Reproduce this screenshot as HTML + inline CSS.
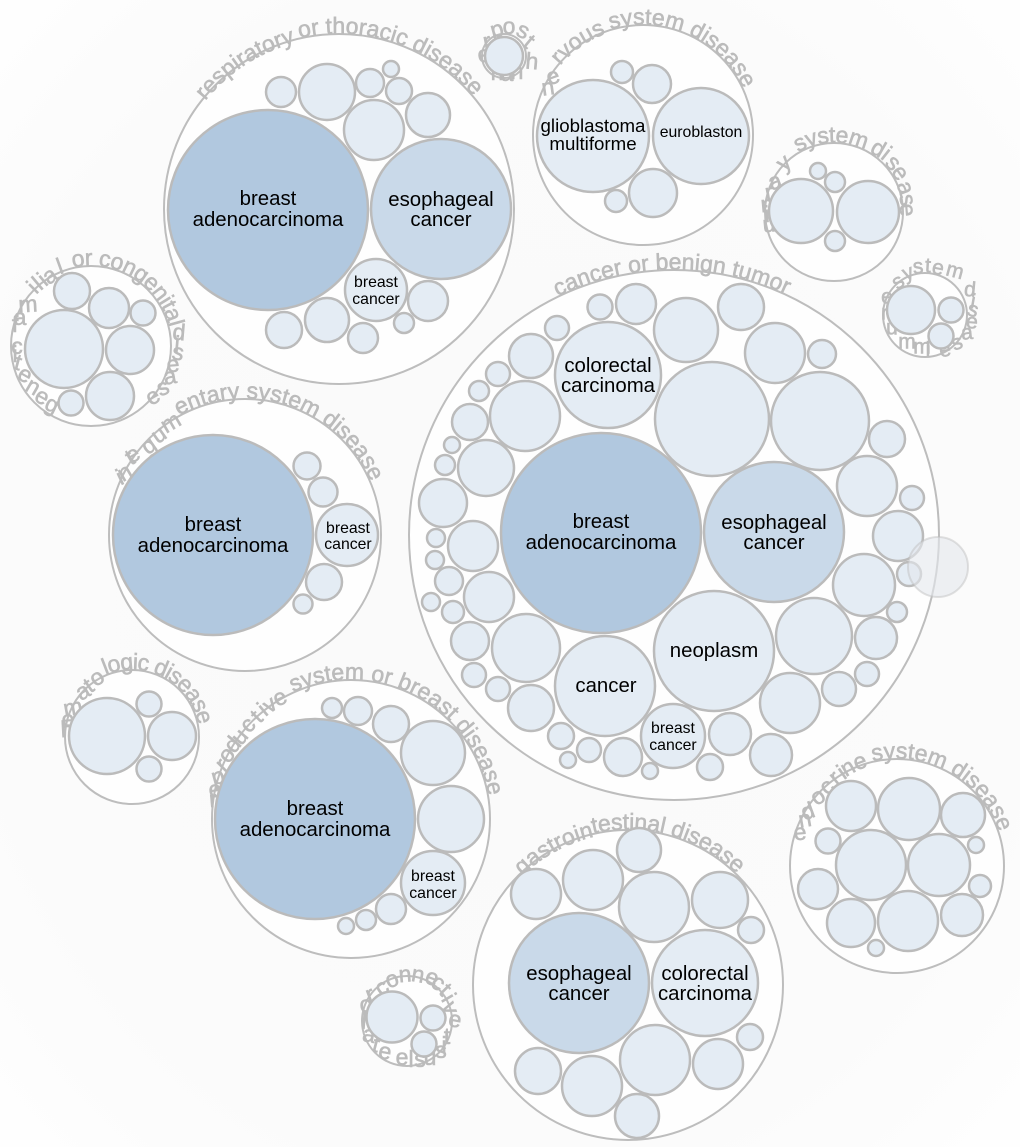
<!DOCTYPE html>
<html><head><meta charset="utf-8"><style>
html,body{margin:0;padding:0;background:#fcfcfc}
svg{display:block}
.o{fill:#fefefe;stroke:#bdbdbd;stroke-width:2}
.c circle{fill:#e4ecf4;stroke:#bbb;stroke-width:2.5}
circle.d{fill:#b1c8df !important}
circle.m{fill:#c9d9e9 !important}
.a text{font:23px "Liberation Sans",sans-serif;fill:#bbb;stroke:#bbb;stroke-width:.6}
.a text.k{text-anchor:middle}
.a .t text{font-size:21px}
.l text{font-family:"Liberation Sans",sans-serif;fill:#000;text-anchor:middle;font-size:20.4px}
.l text.s{font-size:15.8px}
.l text.g{font-size:18.7px}
path{fill:none}
</style></head><body>
<svg xmlns="http://www.w3.org/2000/svg" width="1020" height="1147" viewBox="0 0 1020 1147">
<defs>
<radialGradient id="bg" cx="50%" cy="50%" r="75%"><stop offset="0" stop-color="#fafafa"/><stop offset="0.7" stop-color="#fbfbfb"/><stop offset="1" stop-color="#fff"/></radialGradient>
<path id="pA" d="M0,-175.5A175.5,175.5 0 1 1 0,175.5A175.5,175.5 0 1 1 0,-175.5"/>
<path id="pA2" d="M0,-172A172,172 0 1 1 0,172A172,172 0 1 1 0,-172"/>
<path id="pB" d="M0,-110.5A110.5,110.5 0 1 1 0,110.5A110.5,110.5 0 1 1 0,-110.5"/>
<path id="pB2" d="M0,-108A108,108 0 1 1 0,108A108,108 0 1 1 0,-108"/>
<path id="pD" d="M0,-69.5A69.5,69.5 0 1 1 0,69.5A69.5,69.5 0 1 1 0,-69.5"/>
<path id="pF" d="M0,-80.5A80.5,80.5 0 1 1 0,80.5A80.5,80.5 0 1 1 0,-80.5"/>
<path id="pG" d="M0,-136.5A136.5,136.5 0 1 1 0,136.5A136.5,136.5 0 1 1 0,-136.5"/>
<path id="pH" d="M0,-67.5A67.5,67.5 0 1 1 0,67.5A67.5,67.5 0 1 1 0,-67.5"/>
<path id="pI" d="M0,-139.5A139.5,139.5 0 1 1 0,139.5A139.5,139.5 0 1 1 0,-139.5"/>
<path id="pJ" d="M0,-155.5A155.5,155.5 0 1 1 0,155.5A155.5,155.5 0 1 1 0,-155.5"/>
<path id="pJ2" d="M0,-152A152,152 0 1 1 0,152A152,152 0 1 1 0,-152"/>
<path id="pK" d="M0,-107.5A107.5,107.5 0 1 1 0,107.5A107.5,107.5 0 1 1 0,-107.5"/>
<path id="pM" d="M0,-265.5A265.5,265.5 0 1 1 0,265.5A265.5,265.5 0 1 1 0,-265.5"/>
</defs>
<rect width="1020" height="1147" fill="url(#bg)"/>

<!-- outer circles -->
<circle class="o" cx="339" cy="209" r="175"/>
<circle class="o" cx="643" cy="135" r="110"/>
<circle class="o" cx="504" cy="56" r="22"/>
<circle class="o" cx="834" cy="212" r="69"/>
<circle class="o" cx="925" cy="315" r="42"/>
<circle class="o" cx="91" cy="346" r="80"/>
<circle class="o" cx="245" cy="535" r="136"/>
<circle class="o" cx="132" cy="737" r="67"/>
<circle class="o" cx="351" cy="819" r="139"/>
<circle class="o" cx="628" cy="985" r="155"/>
<circle class="o" cx="897" cy="866" r="107"/>
<circle class="o" cx="407" cy="1021" r="45"/>
<circle class="o" cx="674" cy="535" r="265"/>

<!-- arc labels -->
<g class="a">
<!-- respiratory -->
<g transform="translate(339,209) rotate(-13)"><text><textPath href="#pA">or thoracic disease</textPath></text></g>
<g transform="translate(339,209) rotate(-51)"><text><textPath href="#pA2">respiratory</textPath></text></g>
<!-- nervous -->
<g transform="translate(643,135) rotate(-17)"><text><textPath href="#pB">system disease</textPath></text></g>
<g transform="translate(643,135) rotate(-50)"><text><textPath href="#pB2">rvous</textPath></text></g>
<text class="k" dy=".3em" transform="translate(548,88) rotate(-8)">n</text>
<text class="k" dy=".3em" transform="translate(553,77) rotate(-20)">e</text>
<!-- small top circle -->
<text class="k" dy=".3em" transform="translate(497,30) rotate(-15)">p</text>
<text class="k" dy=".3em" transform="translate(509,27)">o</text>
<text class="k" dy=".3em" transform="translate(523,31) rotate(25)">s</text>
<text class="k" dy=".3em" transform="translate(529,42) rotate(40)">t</text>
<text class="k" dy=".3em" transform="translate(532,62) rotate(5)">h</text>
<text class="k" dy=".3em" transform="translate(487,42) rotate(-10)">r</text>
<text class="k" dy=".3em" transform="translate(484,55) rotate(-10)">e</text>
<text class="k" dy=".3em" transform="translate(497,73)">n</text>
<text class="k" dy=".3em" transform="translate(507,74)">a</text>
<text class="k" dy=".3em" transform="translate(517,72)">n</text>
<!-- urinary -->
<g transform="translate(834,212) rotate(-31)"><text style="letter-spacing:-.6px"><textPath href="#pD">system</textPath></text></g>
<text class="k" dy=".3em" transform="translate(878,149) rotate(30)">d</text>
<text class="k" dy=".3em" transform="translate(886,154) rotate(38)">i</text>
<text class="k" dy=".3em" transform="translate(893,163) rotate(45)">s</text>
<text class="k" dy=".3em" transform="translate(900,173) rotate(55)">e</text>
<text class="k" dy=".3em" transform="translate(905,188) rotate(70)">a</text>
<text class="k" dy=".3em" transform="translate(907,200) rotate(80)">s</text>
<text class="k" dy=".3em" transform="translate(907,210) rotate(85)">e</text>
<text class="k" dy=".3em" transform="translate(784,163) rotate(-40)">y</text>
<text class="k" dy=".3em" transform="translate(775,182) rotate(-20)">a</text>
<text class="k" dy=".3em" transform="translate(769,193) rotate(-10)">r</text>
<text class="k" dy=".3em" transform="translate(767,205) rotate(-5)">n</text>
<text class="k" dy=".3em" transform="translate(767,215) rotate(-5)">i</text>
<text class="k" dy=".3em" transform="translate(769,225) rotate(-5)">u</text>
<!-- immune -->
<g class="t">
<text class="k" dy=".3em" transform="translate(898,282) rotate(-35)">s</text>
<text class="k" dy=".3em" transform="translate(908,273) rotate(-20)">y</text>
<text class="k" dy=".3em" transform="translate(918,267) rotate(-5)">s</text>
<text class="k" dy=".3em" transform="translate(928,266) rotate(3)">t</text>
<text class="k" dy=".3em" transform="translate(938,268) rotate(12)">e</text>
<text class="k" dy=".3em" transform="translate(955,271) rotate(15)">m</text>
<text class="k" dy=".3em" transform="translate(970,290) rotate(5)">d</text>
<text class="k" dy=".3em" transform="translate(973,302) rotate(10)">i</text>
<text class="k" dy=".3em" transform="translate(973,310) rotate(15)">s</text>
<text class="k" dy=".3em" transform="translate(972,322) rotate(5)">e</text>
<text class="k" dy=".3em" transform="translate(967,333) rotate(-5)">a</text>
<text class="k" dy=".3em" transform="translate(957,343) rotate(-20)">s</text>
<text class="k" dy=".3em" transform="translate(945,350) rotate(-10)">e</text>
<text class="k" dy=".3em" transform="translate(928,350)">i</text>
<text class="k" dy=".3em" transform="translate(922,347)">m</text>
<text class="k" dy=".3em" transform="translate(907,342)">m</text>
<text class="k" dy=".3em" transform="translate(892,328)">u</text>
<text class="k" dy=".3em" transform="translate(887,313)">n</text>
<text class="k" dy=".3em" transform="translate(887,297)">e</text>
</g>
<!-- genetic, familial or congenital -->
<g transform="translate(91,346) rotate(-13)"><text style="letter-spacing:-.5px"><textPath href="#pF">or congenital</textPath></text></g>
<text class="k" dy=".3em" transform="translate(179,333) rotate(5)">d</text>
<text class="k" dy=".3em" transform="translate(177,345) rotate(5)">i</text>
<text class="k" dy=".3em" transform="translate(178,353) rotate(10)">s</text>
<text class="k" dy=".3em" transform="translate(173,365) rotate(-5)">e</text>
<text class="k" dy=".3em" transform="translate(170,377) rotate(-10)">a</text>
<text class="k" dy=".3em" transform="translate(163,388) rotate(-20)">s</text>
<text class="k" dy=".3em" transform="translate(153,397) rotate(-30)">e</text>
<text class="k" dy=".3em" transform="translate(33,288) rotate(-45)">i</text>
<text class="k" dy=".3em" transform="translate(38,284) rotate(-40)">l</text>
<text class="k" dy=".3em" transform="translate(43,280) rotate(-40)">i</text>
<text class="k" dy=".3em" transform="translate(50,276) rotate(-35)">a</text>
<text class="k" dy=".3em" transform="translate(60,267) rotate(-20)">l</text>
<text class="k" dy=".3em" transform="translate(28,305) rotate(-3)">m</text>
<text class="k" dy=".3em" transform="translate(20,318)">a</text>
<text class="k" dy=".3em" transform="translate(15,325)">f</text>
<text class="k" dy=".3em" transform="translate(17,347)">c</text>
<text class="k" dy=".3em" transform="translate(15,355)">i</text>
<text class="k" dy=".3em" transform="translate(18,363) rotate(15)">t</text>
<text class="k" dy=".3em" transform="translate(25,375) rotate(30)">e</text>
<text class="k" dy=".3em" transform="translate(33,387) rotate(30)">n</text>
<text class="k" dy=".3em" transform="translate(42,397) rotate(30)">e</text>
<text class="k" dy=".3em" transform="translate(52,405) rotate(25)">g</text>
<!-- integumentary -->
<g transform="translate(245,535) rotate(-29)"><text><textPath href="#pG">entary system disease</textPath></text></g>
<text class="k" dy=".3em" transform="translate(120,478) rotate(-25)">i</text>
<text class="k" dy=".3em" transform="translate(125,473) rotate(-30)">n</text>
<text class="k" dy=".3em" transform="translate(130,458) rotate(-30)">t</text>
<text class="k" dy=".3em" transform="translate(133,455) rotate(-30)">e</text>
<text class="k" dy=".3em" transform="translate(149,446) rotate(-35)">g</text>
<text class="k" dy=".3em" transform="translate(159,435) rotate(-35)">u</text>
<text class="k" dy=".3em" transform="translate(171,423) rotate(-30)">m</text>
<!-- hematologic -->
<g transform="translate(132,737) rotate(-23)"><text style="letter-spacing:-1px"><textPath href="#pH">logic disease</textPath></text></g>
<text class="k" dy=".3em" transform="translate(97,678) rotate(-35)">o</text>
<text class="k" dy=".3em" transform="translate(89,686) rotate(-35)">t</text>
<text class="k" dy=".3em" transform="translate(83,692) rotate(-30)">a</text>
<text class="k" dy=".3em" transform="translate(73,708) rotate(-10)">m</text>
<text class="k" dy=".3em" transform="translate(68,720) rotate(-5)">e</text>
<text class="k" dy=".3em" transform="translate(67,730) rotate(-3)">h</text>
<!-- reproductive -->
<g transform="translate(351,819) rotate(-24.6)"><text><textPath href="#pI">system or breast disease</textPath></text></g>
<text class="k" dy=".3em" transform="translate(280,698) rotate(-25)">e</text>
<text class="k" dy=".3em" transform="translate(270,705) rotate(-35)">v</text>
<text class="k" dy=".3em" transform="translate(263,710) rotate(-40)">i</text>
<text class="k" dy=".3em" transform="translate(257,717) rotate(-45)">t</text>
<text class="k" dy=".3em" transform="translate(248,725) rotate(-45)">c</text>
<text class="k" dy=".3em" transform="translate(240,737) rotate(-50)">u</text>
<text class="k" dy=".3em" transform="translate(233,745) rotate(-50)">d</text>
<text class="k" dy=".3em" transform="translate(227,755) rotate(-50)">o</text>
<text class="k" dy=".3em" transform="translate(222,765) rotate(-45)">r</text>
<text class="k" dy=".3em" transform="translate(218,777) rotate(-15)">p</text>
<text class="k" dy=".3em" transform="translate(215,790) rotate(-8)">e</text>
<text class="k" dy=".3em" transform="translate(213,800) rotate(-5)">r</text>
<!-- gastrointestinal -->
<g transform="translate(628,985) rotate(-13)"><text style="letter-spacing:-.2px"><textPath href="#pJ">testinal disease</textPath></text></g>
<g transform="translate(628,985) rotate(-44)"><text style="letter-spacing:.1px"><textPath href="#pJ2">gastroin</textPath></text></g>
<!-- endocrine -->
<g transform="translate(897,866) rotate(-13)"><text><textPath href="#pK">system disease</textPath></text></g>
<text class="k" dy=".3em" transform="translate(800,833) rotate(-5)">e</text>
<text class="k" dy=".3em" transform="translate(805,820) rotate(-10)">n</text>
<text class="k" dy=".3em" transform="translate(808,812) rotate(-20)">d</text>
<text class="k" dy=".3em" transform="translate(818,797) rotate(-35)">o</text>
<text class="k" dy=".3em" transform="translate(827,787) rotate(-40)">c</text>
<text class="k" dy=".3em" transform="translate(835,778) rotate(-40)">r</text>
<text class="k" dy=".3em" transform="translate(842,773) rotate(-35)">i</text>
<text class="k" dy=".3em" transform="translate(848,768) rotate(-30)">n</text>
<text class="k" dy=".3em" transform="translate(860,762) rotate(-20)">e</text>
<!-- musculoskeletal or connective tissue -->
<text class="k" dy=".3em" transform="translate(370,995) rotate(-20)">r</text>
<text class="k" dy=".3em" transform="translate(366,1005) rotate(-5)">o</text>
<text class="k" dy=".3em" transform="translate(382,988) rotate(-35)">c</text>
<text class="k" dy=".3em" transform="translate(392,980) rotate(-20)">o</text>
<text class="k" dy=".3em" transform="translate(405,975) rotate(-5)">n</text>
<text class="k" dy=".3em" transform="translate(418,975) rotate(10)">n</text>
<text class="k" dy=".3em" transform="translate(432,978) rotate(20)">e</text>
<text class="k" dy=".3em" transform="translate(438,983) rotate(35)">c</text>
<text class="k" dy=".3em" transform="translate(445,990) rotate(45)">t</text>
<text class="k" dy=".3em" transform="translate(448,998) rotate(60)">i</text>
<text class="k" dy=".3em" transform="translate(450,1008) rotate(70)">v</text>
<text class="k" dy=".3em" transform="translate(455,1020) rotate(10)">e</text>
<text class="k" dy=".3em" transform="translate(447,1037)">t</text>
<text class="k" dy=".3em" transform="translate(444,1046)">i</text>
<text class="k" dy=".3em" transform="translate(441,1051)">s</text>
<text class="k" dy=".3em" transform="translate(430,1058)">u</text>
<text class="k" dy=".3em" transform="translate(420,1060)">s</text>
<text class="k" dy=".3em" transform="translate(411,1060)">l</text>
<text class="k" dy=".3em" transform="translate(402,1058)">e</text>
<text class="k" dy=".3em" transform="translate(385,1052) rotate(10)">e</text>
<text class="k" dy=".3em" transform="translate(376,1045) rotate(15)">t</text>
<text class="k" dy=".3em" transform="translate(369,1035) rotate(10)">a</text>
<text class="k" dy=".3em" transform="translate(364,1022) rotate(5)">l</text>
<!-- cancer -->
<g transform="translate(674,535) rotate(-26)"><text><textPath href="#pM">cancer or benign tumor</textPath></text></g>
</g>

<g class="c">
<!-- A respiratory -->
<circle class="d" cx="268" cy="210" r="100"/><circle class="m" cx="441" cy="209" r="70"/><circle cx="376" cy="290" r="31"/>
<circle cx="281" cy="92" r="15"/><circle cx="327" cy="92" r="28"/><circle cx="370" cy="83" r="14"/><circle cx="391" cy="69" r="8"/><circle cx="399" cy="91" r="13"/><circle cx="374" cy="130" r="30"/><circle cx="428" cy="115" r="22"/><circle cx="428" cy="301" r="20"/><circle cx="284" cy="330" r="18"/><circle cx="327" cy="320" r="22"/><circle cx="363" cy="338" r="15"/><circle cx="404" cy="323" r="10"/>
<!-- B nervous -->
<circle cx="593" cy="136" r="56"/><circle cx="701" cy="136" r="48"/><circle cx="622" cy="72" r="11"/><circle cx="652" cy="84" r="19"/><circle cx="653" cy="193" r="24"/><circle cx="616" cy="201" r="11"/>
<!-- C -->
<circle cx="504" cy="56" r="19"/>
<!-- D -->
<circle cx="801" cy="211" r="32"/><circle cx="868" cy="212" r="31"/><circle cx="818" cy="171" r="8"/><circle cx="835" cy="182" r="10"/><circle cx="835" cy="241" r="10"/>
<!-- E -->
<circle cx="911" cy="310" r="24"/><circle cx="951" cy="310" r="12.5"/><circle cx="941" cy="336" r="12.5"/>
<!-- F -->
<circle cx="64" cy="349" r="39"/><circle cx="72" cy="291" r="18"/><circle cx="109" cy="308" r="20"/><circle cx="143" cy="313" r="12.5"/><circle cx="130" cy="350" r="24"/><circle cx="110" cy="396" r="24"/><circle cx="71" cy="403" r="12.5"/>
<!-- G -->
<circle class="d" cx="213" cy="535" r="100"/><circle cx="347" cy="535" r="31"/><circle cx="307" cy="466" r="13.5"/><circle cx="323" cy="492" r="14.5"/><circle cx="324" cy="582" r="18"/><circle cx="303" cy="604" r="9.5"/>
<!-- H -->
<circle cx="107" cy="736" r="38"/><circle cx="149" cy="704" r="12.5"/><circle cx="172" cy="736" r="24"/><circle cx="149" cy="769" r="12.5"/>
<!-- I -->
<circle class="d" cx="315" cy="819" r="100"/><circle cx="433" cy="883" r="32"/><circle cx="433" cy="753" r="32"/><circle cx="451" cy="819" r="33"/><circle cx="391" cy="724" r="18"/><circle cx="358" cy="711" r="14"/><circle cx="332" cy="708" r="10"/><circle cx="391" cy="909" r="15"/><circle cx="366" cy="920" r="10"/><circle cx="346" cy="926" r="8"/>
<!-- J -->
<circle class="m" cx="579" cy="983" r="70"/><circle cx="705" cy="983" r="53"/><circle cx="593" cy="880" r="30"/><circle cx="536" cy="894" r="25"/><circle cx="639" cy="850" r="22"/><circle cx="654" cy="907" r="35"/><circle cx="720" cy="900" r="28"/><circle cx="751" cy="930" r="13"/><circle cx="750" cy="1037" r="13"/><circle cx="718" cy="1064" r="25"/><circle cx="655" cy="1060" r="35"/><circle cx="592" cy="1086" r="30"/><circle cx="538" cy="1071" r="23"/><circle cx="637" cy="1116" r="22"/>
<!-- K -->
<circle cx="851" cy="806" r="25"/><circle cx="909" cy="809" r="31"/><circle cx="963" cy="815" r="22"/><circle cx="828" cy="841" r="12.5"/><circle cx="976" cy="845" r="8"/><circle cx="871" cy="865" r="35"/><circle cx="939" cy="865" r="31"/><circle cx="818" cy="889" r="20"/><circle cx="980" cy="886" r="11"/><circle cx="851" cy="923" r="24"/><circle cx="908" cy="921" r="30"/><circle cx="962" cy="915" r="21"/><circle cx="876" cy="948" r="8"/>
<!-- L -->
<circle cx="392" cy="1017" r="25.5"/><circle cx="433" cy="1018" r="12.5"/><circle cx="424" cy="1044" r="12.5"/>
<!-- M -->
<circle class="d" cx="601" cy="533" r="100"/><circle class="m" cx="774" cy="532" r="70"/><circle cx="608" cy="375" r="53"/><circle cx="605" cy="686" r="50"/><circle cx="714" cy="651" r="60"/><circle cx="673" cy="736" r="32"/>
<circle cx="712" cy="419" r="57"/><circle cx="820" cy="421" r="49"/><circle cx="600" cy="307" r="12.5"/><circle cx="636" cy="304" r="20"/><circle cx="686" cy="330" r="32"/><circle cx="741" cy="307" r="23"/><circle cx="775" cy="353" r="30"/><circle cx="822" cy="354" r="14"/><circle cx="557" cy="328" r="12"/><circle cx="531" cy="356" r="22"/><circle cx="498" cy="374" r="12"/><circle cx="479" cy="391" r="10"/><circle cx="525" cy="416" r="35"/><circle cx="470" cy="422" r="18"/><circle cx="452" cy="445" r="8"/><circle cx="445" cy="465" r="10"/><circle cx="486" cy="468" r="28"/><circle cx="443" cy="503" r="24"/><circle cx="436" cy="538" r="9"/><circle cx="473" cy="546" r="25"/><circle cx="435" cy="560" r="9"/><circle cx="449" cy="581" r="14"/><circle cx="431" cy="602" r="9"/><circle cx="489" cy="597" r="25"/><circle cx="453" cy="612" r="11"/><circle cx="470" cy="641" r="19"/><circle cx="526" cy="648" r="34"/><circle cx="474" cy="675" r="12"/><circle cx="498" cy="689" r="12"/><circle cx="531" cy="708" r="23"/><circle cx="561" cy="736" r="13"/><circle cx="589" cy="750" r="12"/><circle cx="568" cy="760" r="8"/><circle cx="623" cy="757" r="19"/><circle cx="650" cy="771" r="8"/><circle cx="710" cy="767" r="13"/><circle cx="730" cy="734" r="21"/><circle cx="771" cy="755" r="21"/><circle cx="790" cy="703" r="30"/><circle cx="839" cy="689" r="17"/><circle cx="867" cy="674" r="12"/><circle cx="876" cy="638" r="21"/><circle cx="814" cy="636" r="38"/><circle cx="897" cy="612" r="10"/><circle cx="864" cy="585" r="31"/><circle cx="909" cy="574" r="12"/><circle cx="898" cy="536" r="25"/><circle cx="912" cy="498" r="12"/><circle cx="867" cy="486" r="30"/><circle cx="887" cy="439" r="18"/>
</g>

<!-- translucent highlight circle -->
<circle cx="938" cy="567" r="30" fill="#e4e8ec" fill-opacity=".6" stroke="#bdbdbd" stroke-opacity=".45" stroke-width="2"/>

<!-- labels -->
<g class="l">
<text x="268" y="205">breast</text><text x="268" y="226">adenocarcinoma</text>
<text x="441" y="206">esophageal</text><text x="441" y="226">cancer</text>
<text class="s" x="376" y="287">breast</text><text class="s" x="376" y="304">cancer</text>
<text class="g" x="593" y="132">glioblastoma</text><text class="g" x="593" y="150">multiforme</text>
<text class="s" x="701" y="137">euroblaston</text>
<text x="213" y="531">breast</text><text x="213" y="552">adenocarcinoma</text>
<text class="s" x="348" y="533">breast</text><text class="s" x="348" y="549">cancer</text>
<text x="315" y="815">breast</text><text x="315" y="836">adenocarcinoma</text>
<text class="s" x="433" y="881">breast</text><text class="s" x="433" y="898">cancer</text>
<text x="579" y="980">esophageal</text><text x="579" y="1000">cancer</text>
<text x="705" y="980">colorectal</text><text x="705" y="1000">carcinoma</text>
<text x="601" y="528">breast</text><text x="601" y="549">adenocarcinoma</text>
<text x="774" y="529">esophageal</text><text x="774" y="549">cancer</text>
<text x="608" y="372">colorectal</text><text x="608" y="392">carcinoma</text>
<text x="606" y="692">cancer</text>
<text x="714" y="657">neoplasm</text>
<text class="s" x="673" y="733">breast</text><text class="s" x="673" y="750">cancer</text>
</g>
</svg>
</body></html>
